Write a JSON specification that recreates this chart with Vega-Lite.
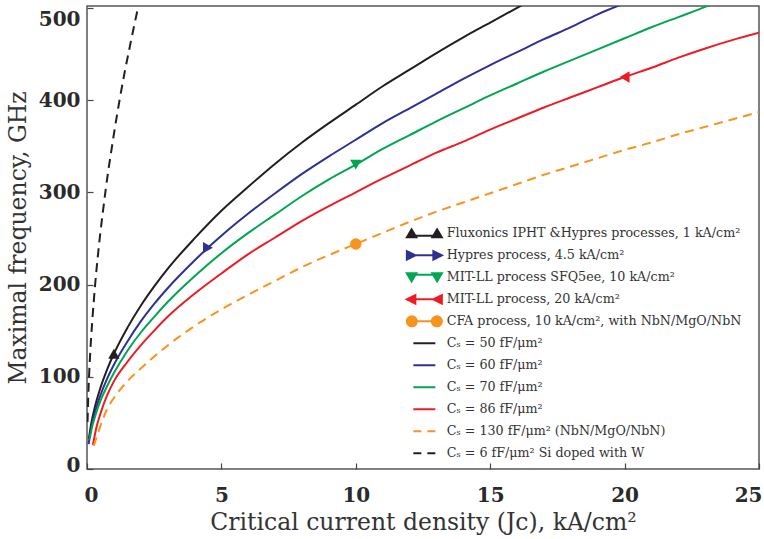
{
  "$schema": "https://vega.github.io/schema/vega-lite/v6.json",
  "width": 672,
  "height": 463,
  "autosize": {"type": "none"},
  "padding": {"left": 87, "top": 6, "right": 5, "bottom": 70},
  "background": "white",
  "config": {
    "view": {"stroke": "#555555", "strokeWidth": 1.5},
    "axis": {
      "grid": false,
      "domain": false,
      "tickSize": -6,
      "tickColor": "#444444",
      "tickWidth": 1.2,
      "labelFont": "DejaVu Serif",
      "labelFontWeight": "bold",
      "labelFontSize": 20,
      "labelColor": "#2a2a2a",
      "titleFont": "DejaVu Serif",
      "titleFontWeight": "normal",
      "titleFontSize": 23.5,
      "titleColor": "#333333"
    }
  },
  "datasets": {
    "curves": [
      {"s":"C50","x":0.07,"y":33},{"s":"C50","x":0.15,"y":48},{"s":"C50","x":0.3,"y":68},{"s":"C50","x":0.5,"y":88},{"s":"C50","x":0.75,"y":108},{"s":"C50","x":1,"y":125},{"s":"C50","x":1.5,"y":153},{"s":"C50","x":2,"y":177},{"s":"C50","x":2.5,"y":198},{"s":"C50","x":3,"y":217},{"s":"C50","x":4,"y":250},{"s":"C50","x":5,"y":280},{"s":"C50","x":6,"y":306},{"s":"C50","x":7,"y":331},{"s":"C50","x":8,"y":354},{"s":"C50","x":9,"y":375},{"s":"C50","x":10,"y":395},{"s":"C50","x":11,"y":415},{"s":"C50","x":12,"y":433},{"s":"C50","x":13,"y":451},{"s":"C50","x":14,"y":468},{"s":"C50","x":15,"y":484},{"s":"C50","x":16,"y":500},{"s":"C50","x":16.5,"y":508},
      {"s":"C60","x":0.06,"y":27},{"s":"C60","x":0.15,"y":44},{"s":"C60","x":0.3,"y":62},{"s":"C60","x":0.5,"y":80},{"s":"C60","x":0.75,"y":98},{"s":"C60","x":1,"y":113},{"s":"C60","x":1.5,"y":138},{"s":"C60","x":2,"y":160},{"s":"C60","x":2.5,"y":179},{"s":"C60","x":3,"y":196},{"s":"C60","x":4,"y":226},{"s":"C60","x":4.5,"y":240},{"s":"C60","x":5,"y":253},{"s":"C60","x":6,"y":277},{"s":"C60","x":7,"y":299},{"s":"C60","x":8,"y":320},{"s":"C60","x":9,"y":339},{"s":"C60","x":10,"y":357},{"s":"C60","x":11,"y":375},{"s":"C60","x":12,"y":391},{"s":"C60","x":13,"y":407},{"s":"C60","x":14,"y":423},{"s":"C60","x":15,"y":438},{"s":"C60","x":16,"y":452},{"s":"C60","x":17,"y":466},{"s":"C60","x":18,"y":479},{"s":"C60","x":19,"y":493},{"s":"C60","x":20,"y":505},
      {"s":"C70","x":0.1,"y":33},{"s":"C70","x":0.2,"y":47},{"s":"C70","x":0.3,"y":57},{"s":"C70","x":0.5,"y":74},{"s":"C70","x":0.75,"y":90},{"s":"C70","x":1,"y":104},{"s":"C70","x":1.5,"y":128},{"s":"C70","x":2,"y":148},{"s":"C70","x":2.5,"y":165},{"s":"C70","x":3,"y":181},{"s":"C70","x":4,"y":209},{"s":"C70","x":5,"y":234},{"s":"C70","x":6,"y":256},{"s":"C70","x":7,"y":276},{"s":"C70","x":8,"y":296},{"s":"C70","x":9,"y":314},{"s":"C70","x":10,"y":330},{"s":"C70","x":11,"y":347},{"s":"C70","x":12,"y":362},{"s":"C70","x":13,"y":377},{"s":"C70","x":14,"y":391},{"s":"C70","x":15,"y":405},{"s":"C70","x":16,"y":418},{"s":"C70","x":17,"y":431},{"s":"C70","x":18,"y":443},{"s":"C70","x":19,"y":455},{"s":"C70","x":20,"y":467},{"s":"C70","x":21,"y":479},{"s":"C70","x":22,"y":490},{"s":"C70","x":23,"y":501},{"s":"C70","x":23.5,"y":507},
      {"s":"C86","x":0.22,"y":26},{"s":"C86","x":0.35,"y":45},{"s":"C86","x":0.5,"y":60},{"s":"C86","x":0.75,"y":80},{"s":"C86","x":1,"y":95},{"s":"C86","x":1.5,"y":116},{"s":"C86","x":2,"y":134},{"s":"C86","x":2.5,"y":150},{"s":"C86","x":3,"y":165},{"s":"C86","x":4,"y":190},{"s":"C86","x":5,"y":212},{"s":"C86","x":6,"y":233},{"s":"C86","x":7,"y":251},{"s":"C86","x":8,"y":269},{"s":"C86","x":9,"y":285},{"s":"C86","x":10,"y":300},{"s":"C86","x":11,"y":315},{"s":"C86","x":12,"y":329},{"s":"C86","x":13,"y":343},{"s":"C86","x":14,"y":355},{"s":"C86","x":15,"y":368},{"s":"C86","x":16,"y":380},{"s":"C86","x":17,"y":392},{"s":"C86","x":18,"y":403},{"s":"C86","x":19,"y":414},{"s":"C86","x":20,"y":425},{"s":"C86","x":21,"y":435},{"s":"C86","x":22,"y":446},{"s":"C86","x":23,"y":456},{"s":"C86","x":24,"y":465},{"s":"C86","x":25,"y":473},
      {"s":"C130","x":0.25,"y":25},{"s":"C130","x":0.4,"y":38},{"s":"C130","x":0.6,"y":55},{"s":"C130","x":0.8,"y":68},{"s":"C130","x":1,"y":77},{"s":"C130","x":1.5,"y":95},{"s":"C130","x":2,"y":109},{"s":"C130","x":2.5,"y":122},{"s":"C130","x":3,"y":134},{"s":"C130","x":4,"y":155},{"s":"C130","x":5,"y":173},{"s":"C130","x":6,"y":189},{"s":"C130","x":7,"y":204},{"s":"C130","x":8,"y":219},{"s":"C130","x":9,"y":232},{"s":"C130","x":10,"y":244},{"s":"C130","x":11,"y":256},{"s":"C130","x":12,"y":268},{"s":"C130","x":13,"y":279},{"s":"C130","x":14,"y":289},{"s":"C130","x":15,"y":299},{"s":"C130","x":16,"y":309},{"s":"C130","x":17,"y":319},{"s":"C130","x":18,"y":328},{"s":"C130","x":19,"y":337},{"s":"C130","x":20,"y":346},{"s":"C130","x":21,"y":354},{"s":"C130","x":22,"y":363},{"s":"C130","x":23,"y":371},{"s":"C130","x":24,"y":379},{"s":"C130","x":25,"y":387},
      {"s":"C6","x":0.02,"y":51},{"s":"C6","x":0.05,"y":81},{"s":"C6","x":0.1,"y":115},{"s":"C6","x":0.15,"y":141},{"s":"C6","x":0.2,"y":162},{"s":"C6","x":0.3,"y":199},{"s":"C6","x":0.4,"y":230},{"s":"C6","x":0.5,"y":257},{"s":"C6","x":0.6,"y":281},{"s":"C6","x":0.7,"y":304},{"s":"C6","x":0.8,"y":325},{"s":"C6","x":0.9,"y":344},{"s":"C6","x":1,"y":363},{"s":"C6","x":1.2,"y":398},{"s":"C6","x":1.4,"y":430},{"s":"C6","x":1.6,"y":459},{"s":"C6","x":1.8,"y":487},{"s":"C6","x":2,"y":514}
    ],
    "markers": [
      {"s":"F","x":1,"y":125},
      {"s":"H","x":4.5,"y":240},
      {"s":"M5","x":10,"y":330},
      {"s":"M20","x":20,"y":425},
      {"s":"CFA","x":10,"y":244}
    ]
  },
  "encoding": {
    "x": {
      "field": "x", "type": "quantitative",
      "scale": {"domain": [0, 25], "nice": false},
      "axis": {
        "values": [0, 5, 10, 15, 20, 25],
        "labelPadding": 22,
        "labelFlush": true,
        "labelFlushOffset": 3,
        "titlePadding": 5,
        "title": "Critical current density (Jc), kA/cm²"
      }
    },
    "y": {
      "field": "y", "type": "quantitative",
      "scale": {"domain": [0, 502], "nice": false},
      "axis": {
        "values": [0, 100, 200, 300, 400, 500],
        "labelPadding": 13,
        "labelFlush": false,
        "labelBaseline": "middle",
        "labelOffset": {"condition": [{"test": "datum.value == 500", "value": 12}, {"test": "datum.value == 0", "value": -4}], "value": 0},
        "titlePadding": 8,
        "title": "Maximal frequency, GHz"
      }
    },
    "color": {
      "field": "s", "type": "nominal",
      "scale": {
        "domain": ["F","H","M5","M20","CFA","C50","C60","C70","C86","C130","C6"],
        "range": ["#231F20","#2E3192","#00A651","#ED1C24","#F7941D","#231F20","#2E3192","#00A651","#ED1C24","#F7941D","#231F20"]
      },
      "legend": {
        "title": null,
        "orient": "none",
        "legendX": 318,
        "legendY": 221,
        "padding": 0,
        "gridAlign": "all",
        "symbolSize": 100,
        "symbolOffset": 13,
        "labelOffset": 16,
        "rowPadding": 3,
        "symbolStrokeWidth": 2,
        "symbolOpacity": 1,
        "symbolType": {"expr": "datum.value == 'F' ? 'M-3.5,0.8L-1.6,0.8L-2.55,-0.8Z M1.6,0.8L3.5,0.8L2.55,-0.8Z M-2.5,0.5L2.5,0.5' : datum.value == 'H' ? 'M-3.5,-0.85L-3.5,0.85L-1.8,0Z M1.8,-0.85L1.8,0.85L3.5,0Z M-3,0L2,0' : datum.value == 'M5' ? 'M-3.5,-0.8L-1.6,-0.8L-2.55,0.8Z M1.6,-0.8L3.5,-0.8L2.55,0.8Z M-2.5,-0.5L2.5,-0.5' : datum.value == 'M20' ? 'M-1.8,-0.85L-1.8,0.85L-3.5,0Z M3.5,-0.85L3.5,0.85L1.8,0Z M-2,0L3,0' : datum.value == 'CFA' ? 'M-3.5,0A1,1,0,1,0,-1.5,0A1,1,0,1,0,-3.5,0Z M1.5,0A1,1,0,1,0,3.5,0A1,1,0,1,0,1.5,0Z M-1.5,0L1.5,0' : 'M-2.2,0L2.2,0'"},
        "symbolFillColor": {"expr": "scale('color', datum.value)"},
        "symbolStrokeColor": {"expr": "scale('color', datum.value)"},
        "symbolDash": {"expr": "(datum.value == 'C130' || datum.value == 'C6') ? [8,6] : [1,0]"},
        "labelFont": "DejaVu Serif",
        "labelFontSize": 12.7,
        "labelColor": "#333333",
        "labelLimit": 400,
        "labelExpr": "datum.value == 'F' ? 'Fluxonics IPHT &Hypres processes, 1 kA/cm²' : datum.value == 'H' ? 'Hypres process, 4.5 kA/cm²' : datum.value == 'M5' ? 'MIT-LL process SFQ5ee, 10 kA/cm²' : datum.value == 'M20' ? 'MIT-LL process, 20 kA/cm²' : datum.value == 'CFA' ? 'CFA process, 10 kA/cm², with NbN/MgO/NbN' : datum.value == 'C50' ? 'Cₛ = 50 fF/μm²' : datum.value == 'C60' ? 'Cₛ = 60 fF/μm²' : datum.value == 'C70' ? 'Cₛ = 70 fF/μm²' : datum.value == 'C86' ? 'Cₛ = 86 fF/μm²' : datum.value == 'C130' ? 'Cₛ = 130 fF/μm² (NbN/MgO/NbN)' : 'Cₛ = 6 fF/μm² Si doped with W'"
      }
    }
  },
  "layer": [
    {
      "data": {"name": "curves"},
      "transform": [{"filter": "datum.s != 'C130' && datum.s != 'C6'"}],
      "mark": {"type": "line", "strokeWidth": 2, "clip": true, "interpolate": "monotone"},
      "encoding": {"detail": {"field": "s"}}
    },
    {
      "data": {"name": "curves"},
      "transform": [{"filter": "datum.s == 'C130' || datum.s == 'C6'"}],
      "mark": {"type": "line", "strokeWidth": 2, "clip": true, "interpolate": "monotone", "strokeDash": [9, 6]},
      "encoding": {"detail": {"field": "s"}}
    },
    {
      "data": {"name": "markers"},
      "mark": {"type": "point", "filled": true, "opacity": 1, "size": 130},
      "encoding": {
        "shape": {
          "field": "s", "type": "nominal",
          "scale": {"domain": ["F","H","M5","M20","CFA"], "range": ["triangle-up","triangle-right","triangle-down","triangle-left","circle"]},
          "legend": null
        }
      }
    }
  ]
}
